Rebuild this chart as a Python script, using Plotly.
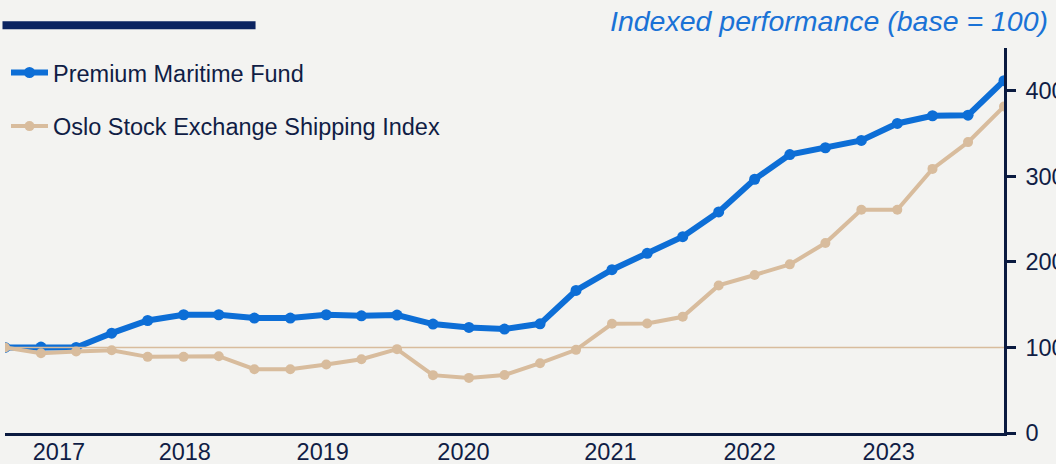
import plotly.graph_objects as go

# ---- data ----
dates = [
    "2016-10-01", "2017-01-01", "2017-04-01", "2017-07-01",
    "2017-10-01", "2018-01-01", "2018-04-01", "2018-07-01",
    "2018-10-01", "2019-01-01", "2019-04-01", "2019-07-01",
    "2019-10-01", "2020-01-01", "2020-04-01", "2020-07-01",
    "2020-10-01", "2021-01-01", "2021-04-01", "2021-07-01",
    "2021-10-01", "2022-01-01", "2022-04-01", "2022-07-01",
    "2022-10-01", "2023-01-01", "2023-04-01", "2023-07-01",
    "2023-10-01",
]
fund_name = "Premium Maritime Fund"
fund = [100, 100.5, 100, 116.7, 131.5, 138.2, 138.2, 134.3, 134.3, 138.2,
        137, 137.8, 127.3, 123.4, 121.5, 127.6, 166.6, 190.9, 210, 229.5,
        258.4, 296.6, 325.5, 333.4, 342, 361.8, 370.8, 371.5, 411.8]
index_name = "Oslo Stock Exchange Shipping Index"
index = [100, 93.3, 95.2, 96.8, 89, 89, 89.8, 74.6, 74.6, 80,
         86.3, 98, 67.6, 64.4, 67.8, 81.6, 97.2, 127.6, 128, 135.8,
         172.5, 184.7, 197.1, 222, 261, 261, 308.7, 340, 381.7]
base_value = 100
tick_dates = ["2017-02-16", "2018-01-04", "2018-12-23", "2019-12-18",
              "2020-12-28", "2021-12-19", "2022-12-10"]
tick_text = ["2017", "2018", "2019", "2020", "2021", "2022", "2023"]
y_ticks = [0, 100, 200, 300, 400]
subtitle = "Indexed performance (base = 100)"

# ---- style ----
BG = "#f3f3f1"
NAVY = "#0a1a40"
TEXT = "#101d45"
BLUE = "#0d6ed6"
BEIGE = "#d8bc9d"
FONT = "Liberation Sans, Arial, sans-serif"

fig = go.Figure()
fig.add_trace(go.Scatter(
    x=dates, y=fund, name=fund_name, mode="lines+markers",
    line=dict(color=BLUE, width=6), marker=dict(color=BLUE, size=11),
    legend="legend",
))
fig.add_trace(go.Scatter(
    x=[dates[0], dates[-1]], y=[base_value, base_value], mode="lines",
    line=dict(color=BEIGE, width=1.5), showlegend=False, hoverinfo="skip",
))
fig.add_trace(go.Scatter(
    x=dates, y=index, name=index_name, mode="lines+markers",
    line=dict(color=BEIGE, width=4), marker=dict(color=BEIGE, size=10),
    legend="legend2",
))

legend_style = dict(xanchor="left", yanchor="middle", bgcolor="rgba(0,0,0,0)",
                    itemwidth=37,
                    font=dict(size=23.5, color=TEXT, family=FONT))

fig.update_layout(
    width=1056, height=464,
    paper_bgcolor=BG, plot_bgcolor=BG,
    margin=dict(l=5, r=52, t=48, b=31, autoexpand=False),
    font=dict(family=FONT, color=TEXT, size=24),
    legend=dict(x=0.001, y=0.9358, **legend_style),
    legend2=dict(x=0.001, y=0.7965, **legend_style),
    xaxis=dict(
        type="date", range=[dates[0], dates[-1]], automargin=False,
        showgrid=False, zeroline=False,
        showline=True, linecolor=NAVY, linewidth=2.5,
        tickvals=tick_dates, ticktext=tick_text, ticks="",
        ticklabelstandoff=-4,
        tickfont=dict(size=23.5, color=TEXT, family=FONT),
    ),
    yaxis=dict(
        side="right", range=[0, 450], showgrid=False, zeroline=False,
        automargin=False,
        showline=True, linecolor=NAVY, linewidth=2.5,
        tickvals=y_ticks, ticks="outside", ticklen=9, tickwidth=2.5,
        tickcolor=NAVY, ticklabelstandoff=5,
        tickfont=dict(size=23.5, color=TEXT, family=FONT),
    ),
    shapes=[dict(type="rect", xref="paper", yref="paper",
                 x0=-0.0025, x1=0.2508, y0=1.0489, y1=1.0697,
                 fillcolor="#0a2360", line=dict(width=0), layer="above")],
    annotations=[dict(text=subtitle, xref="paper", yref="paper",
                      x=1.046, y=1.071, xanchor="right",
                      yanchor="middle", showarrow=False,
                      font=dict(size=28.5, color="#1a72d6", family=FONT,
                                style="italic"))],
)

fig.write_html("out.html", config={"displayModeBar": False},
               post_script="document.body.style.margin='0';")
